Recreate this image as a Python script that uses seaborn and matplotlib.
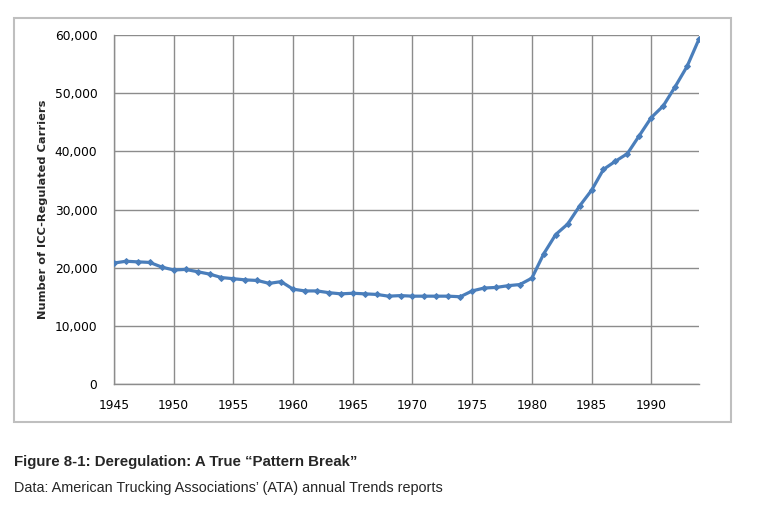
import matplotlib
matplotlib.use("Agg")
import matplotlib.pyplot as plt
import matplotlib.patches as mpatches
import matplotlib.ticker as mticker
import seaborn as sns
import pandas as pd

years = list(range(1945, 1995))
carriers = [
    20800, 21100, 21000, 20900, 20100, 19600, 19700, 19300, 18900, 18300,
    18100, 17900, 17800, 17300, 17600, 16300, 16000, 16000, 15700, 15500,
    15600, 15500, 15400, 15100, 15200, 15100, 15100, 15100, 15100, 15000,
    16000, 16500, 16600, 16900, 17100, 18200, 22400, 25700, 27500, 30600,
    33300, 36900, 38300, 39600, 42700, 45800, 47800, 51100, 54600, 59300,
]
x_ticks = [1945, 1950, 1955, 1960, 1965, 1970, 1975, 1980, 1985, 1990]
y_ticks = [0, 10000, 20000, 30000, 40000, 50000, 60000]
y_label = "Number of ICC-Regulated Carriers"
caption_title = "Figure 8-1: Deregulation: A True \u201cPattern Break\u201d"
caption_source = "Data: American Trucking Associations\u2019 (ATA) annual Trends reports"

df = pd.DataFrame({"year": years, "carriers": carriers})

sns.set_style("white")
plt.rcParams["font.family"] = ["DejaVu Sans"]

W, H = 767, 508
fig = plt.figure(figsize=(W / 100, H / 100), dpi=100)
ax = fig.add_axes([114 / W, 1 - 384 / H, (699 - 114) / W, (384 - 35) / H])

grid_c = "#8c8c8c"
line_c = "#4a7ebb"

sns.lineplot(data=df, x="year", y="carriers", ax=ax, color=line_c,
             linewidth=2.3, marker="D", markersize=3.0,
             markeredgecolor=line_c, markerfacecolor=line_c, zorder=3)

ax.set_xlim(1945, 1994)
ax.set_ylim(0, 60000)
ax.set_xticks(x_ticks)
ax.set_yticks(y_ticks)
ax.yaxis.set_major_formatter(mticker.FuncFormatter(lambda v, p: f"{int(v):,}"))
ax.grid(True, color=grid_c, linewidth=1.0)
ax.set_axisbelow(True)
for s in ["top", "right"]:
    ax.spines[s].set_visible(False)
for s in ["left", "bottom"]:
    ax.spines[s].set_color(grid_c)
    ax.spines[s].set_linewidth(1.0)
ax.tick_params(axis="both", which="major", direction="out", length=3.6,
               width=1.0, color=grid_c, labelsize=8.8, labelcolor="#000000")
ax.tick_params(axis="y", pad=8.3)
ax.tick_params(axis="x", pad=7.3)
ax.set_xlabel("")
ax.set_ylabel(y_label, fontsize=8.2, fontweight="bold")
ax.yaxis.set_label_coords(-(114 - 48) / (699 - 114), 0.5)

# outer chart frame
frame = mpatches.Rectangle((14 / W, 1 - 422 / H), (731 - 14) / W, (422 - 18) / H,
                           transform=fig.transFigure, fill=False,
                           edgecolor="#bfbfbf", linewidth=1.5, zorder=0)
fig.patches.append(frame)

fig.text(14 / W, 1 - 466 / H, caption_title, fontsize=10.8, fontweight="bold",
         family=["Liberation Sans", "DejaVu Sans"], va="baseline", ha="left")
fig.text(14 / W, 1 - 492 / H, caption_source, fontsize=10.4,
         family=["Liberation Sans", "DejaVu Sans"], va="baseline", ha="left")

fig.savefig("out.png", dpi=100)
